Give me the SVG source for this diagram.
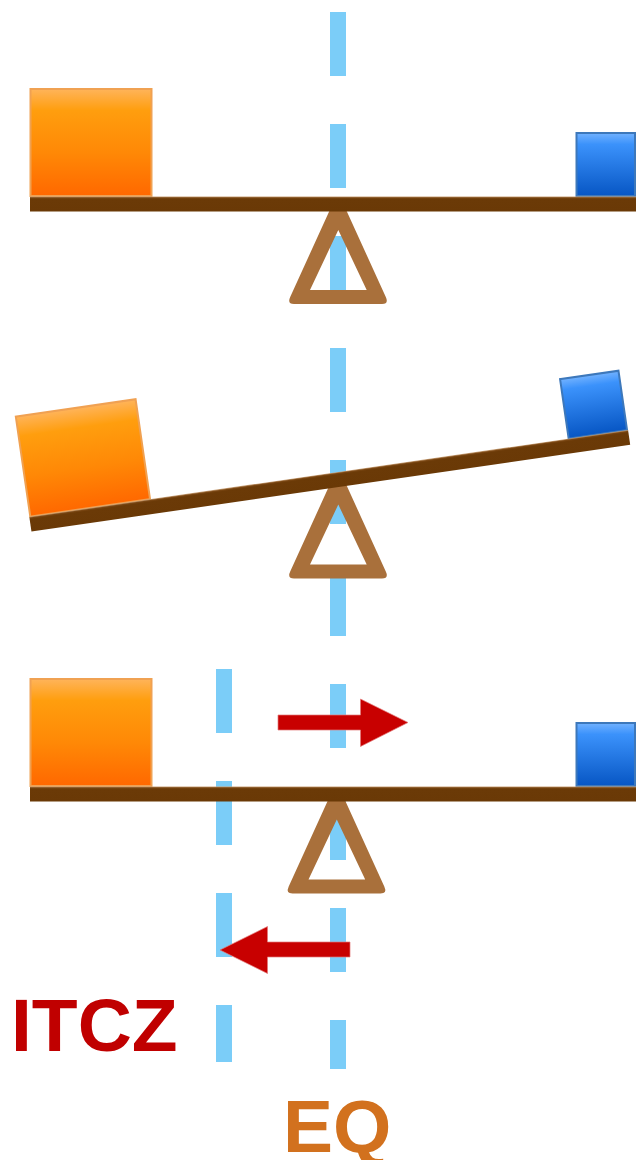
<svg xmlns="http://www.w3.org/2000/svg" width="638" height="1160" viewBox="0 0 638 1160">
  <defs>
    <linearGradient id="gOrange" x1="0" y1="0" x2="0" y2="1">
      <stop offset="0" stop-color="#ffb45a"/>
      <stop offset="0.2" stop-color="#ff9e0e"/>
      <stop offset="0.6" stop-color="#ff8806"/>
      <stop offset="1" stop-color="#ff6800"/>
    </linearGradient>
    <linearGradient id="gBlue" x1="0" y1="0" x2="0" y2="1">
      <stop offset="0" stop-color="#72b2ff"/>
      <stop offset="0.18" stop-color="#3b92fb"/>
      <stop offset="1" stop-color="#0756c4"/>
    </linearGradient>
    <linearGradient id="gBoard" x1="0" y1="0" x2="0" y2="1">
      <stop offset="0" stop-color="#c9a27a"/>
      <stop offset="0.09" stop-color="#7a4612"/>
      <stop offset="0.18" stop-color="#6b3a07"/>
      <stop offset="1" stop-color="#6a3906"/>
    </linearGradient>
    <path id="fulcrum" d="M332.1,205 L343.9,205 L385.8,297 Q389,304 382,304 L294,304 Q287,304 290.2,297 Z M338.3,230 L310,290 L366.7,290 Z"/>
  </defs>
  <style>
    .dash { stroke: #7bcdf8; stroke-width: 16; stroke-dasharray: 64 48; fill: none; }
    .fulcrum { fill: #a9703b; fill-rule: evenodd; }
    .board { fill: url(#gBoard); }
    .heavy { fill: url(#gOrange); stroke: #f0a152; stroke-width: 2; }
    .light { fill: url(#gBlue); stroke: #3d78bb; stroke-width: 2; }
    .arrow { fill: #c80000; stroke: #e27a7a; stroke-width: 0.7; }
    .label { font-family: "Liberation Sans", Arial, sans-serif; font-weight: bold; font-size: 75px; }
  </style>

  <g id="eq-line">
    <line class="dash" x1="338" y1="12" x2="338" y2="1069"/>
  </g>
  <g id="itcz-line">
    <line class="dash" x1="224" y1="669" x2="224" y2="1062"/>
  </g>

  <g id="seesaw-balanced">
    <use href="#fulcrum" class="fulcrum"/>
    <rect class="heavy" x="30.5" y="89" width="121" height="107"/>
    <rect class="light" x="576.5" y="133" width="58.5" height="63"/>
    <rect class="board" x="30" y="196.5" width="606" height="15"/>
  </g>

  <g id="seesaw-tilted">
    <use href="#fulcrum" class="fulcrum" transform="translate(0,274.5)"/>
    <g transform="translate(29.3,516.7) rotate(-8.24)">
      <rect class="heavy" x="1" y="-101" width="121" height="101"/>
      <rect class="light" x="545" y="-60" width="59" height="60"/>
      <rect class="board" x="0" y="0" width="605" height="15"/>
    </g>
  </g>

  <g id="seesaw-shifted">
    <use href="#fulcrum" class="fulcrum" transform="translate(-1.5,589.5)"/>
    <g transform="translate(0,590)">
      <rect class="heavy" x="30.5" y="89" width="121" height="107"/>
      <rect class="light" x="576.5" y="133" width="58.5" height="63"/>
      <rect class="board" x="30" y="196.5" width="606" height="15"/>
    </g>
  </g>

  <g id="connectors">
    <path class="arrow" d="M278,715 L360.5,715 L360.5,699 L408,722.5 L360.5,746.5 L360.5,730 L278,730 Z"/>
    <path class="arrow" d="M350,942 L267.5,942 L267.5,926.5 L220,950 L267.5,973.5 L267.5,957 L350,957 Z"/>
  </g>

  <g id="label-itcz">
    <text class="label" x="11" y="1050.5" fill="#c00000">ITCZ</text>
  </g>
  <g id="label-eq">
    <text class="label" x="283" y="1152" fill="#d2711e">EQ</text>
  </g>
</svg>
